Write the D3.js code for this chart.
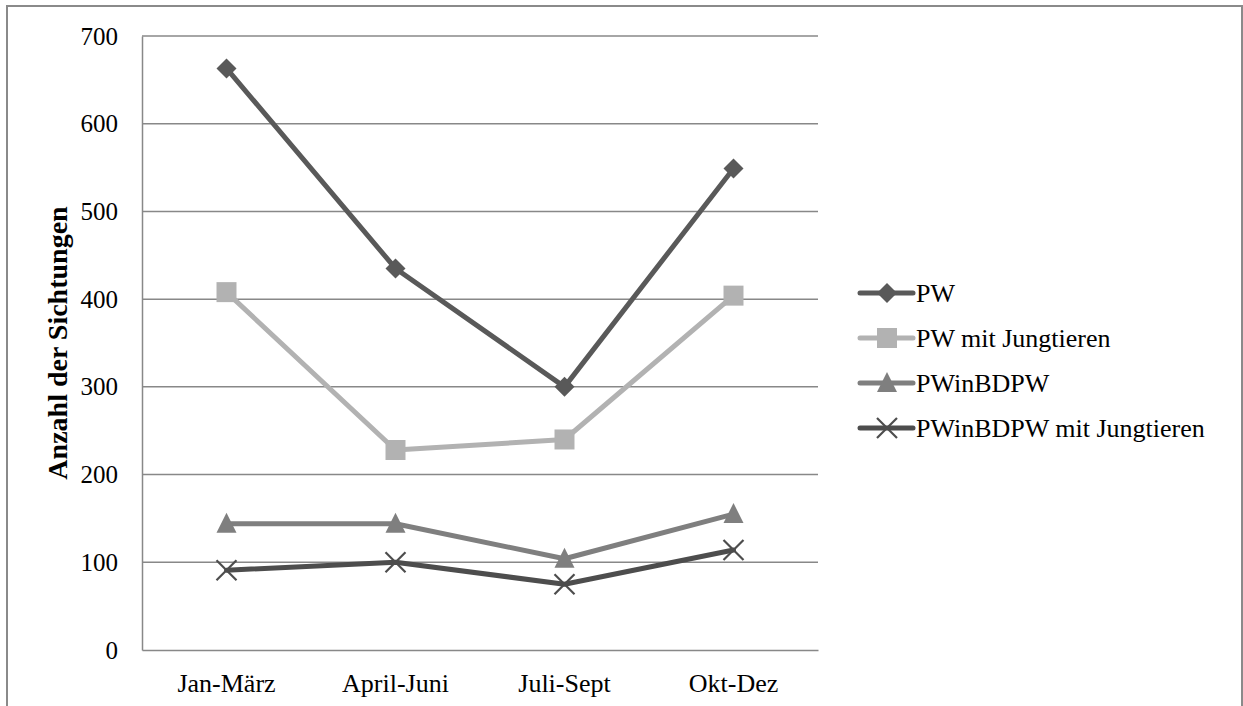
<!DOCTYPE html>
<html>
<head>
<meta charset="utf-8">
<script src="https://cdn.jsdelivr.net/npm/d3@7"></script>
<style>
  html, body { margin: 0; padding: 0; background: #fff; }
  svg { display: block; }
  text { font-family: "Liberation Serif", "Times New Roman", serif; fill: #000; }
</style>
</head>
<body>
<svg id="chart" width="1243" height="706"></svg>
<script>
// Sichtungen je Quartal
const categories = ["Jan-März", "April-Juni", "Juli-Sept", "Okt-Dez"];
const seriesNames = ["PW", "PW mit Jungtieren", "PWinBDPW", "PWinBDPW mit Jungtieren"];
const pw = [663, 435, 300, 549];
const pwJung = [408, 228, 240, 404];
const pwInBdpw = [144, 144, 104, 155];
const pwInBdpwJung = [91, 100, 75, 114];
const yTicks = [0, 100, 200, 300, 400, 500, 600, 700];

const series = [
  { name: seriesNames[0], values: pw, color: "#595959", marker: "diamond" },
  { name: seriesNames[1], values: pwJung, color: "#b2b2b2", marker: "square" },
  { name: seriesNames[2], values: pwInBdpw, color: "#7f7f7f", marker: "triangle" },
  { name: seriesNames[3], values: pwInBdpwJung, color: "#4d4d4d", marker: "x" }
];

const FONT = "'Liberation Serif', 'Times New Roman', serif";
const svg = d3.select("#chart");
const plot = { left: 142, right: 818, top: 36, bottom: 650 };

// outer frame
svg.append("rect")
  .attr("x", 7).attr("y", 6)
  .attr("width", 1235).attr("height", 720)
  .attr("fill", "none").attr("stroke", "#8a8a8a").attr("stroke-width", 2);

const x = d3.scaleBand().domain(categories).range([plot.left, plot.right]);
const y = d3.scaleLinear().domain([0, 700]).range([plot.bottom, plot.top]);

// horizontal gridlines
svg.append("g").selectAll("line").data(yTicks.filter(t => t > 0)).join("line")
  .attr("x1", plot.left).attr("x2", plot.right)
  .attr("y1", d => y(d)).attr("y2", d => y(d))
  .attr("stroke", "#888").attr("stroke-width", 1.5);

// y axis
const yAxis = svg.append("g").attr("transform", `translate(${plot.left},0)`)
  .call(d3.axisLeft(y).tickValues(yTicks).tickSize(0).tickPadding(24));
yAxis.attr("font-family", null).attr("font-size", null);
yAxis.select(".domain").attr("stroke", "#888").attr("stroke-width", 1.5);
yAxis.selectAll("text").style("font-size", "25px").attr("fill", "#000")
  .style("font-family", FONT);

// x axis
const xAxis = svg.append("g").attr("transform", `translate(0,${plot.bottom})`)
  .call(d3.axisBottom(x).tickSize(0).tickPadding(24));
xAxis.attr("font-family", null).attr("font-size", null);
xAxis.select(".domain").attr("stroke", "#888").attr("stroke-width", 1.5);
xAxis.selectAll("text").style("font-size", "26px").attr("fill", "#000")
  .style("font-family", FONT);

// y axis title
svg.append("text")
  .attr("transform", `translate(67,${(plot.top + plot.bottom) / 2}) rotate(-90)`)
  .attr("text-anchor", "middle")
  .style("font-size", "28px").style("font-weight", "bold").style("font-family", FONT)
  .text("Anzahl der Sichtungen");

function markerPath(type) {
  switch (type) {
    case "diamond": return "M0,-10L10,0L0,10L-10,0Z";
    case "square": return "M-10,-10H10V10H-10Z";
    case "triangle": return "M0,-11L10,9H-10Z";
    default: return "M-10,-10L10,10M-10,10L10,-10";
  }
}

function drawMarker(g, type, color) {
  const p = g.append("path").attr("d", markerPath(type));
  if (type === "x") p.attr("fill", "none").attr("stroke", color).attr("stroke-width", 2.2);
  else p.attr("fill", color);
}

const line = d3.line()
  .x((d, i) => x(categories[i]) + x.bandwidth() / 2)
  .y(d => y(d));

series.forEach(s => {
  const g = svg.append("g");
  g.append("path").datum(s.values)
    .attr("d", line).attr("fill", "none")
    .attr("stroke", s.color).attr("stroke-width", 5)
    .attr("stroke-linejoin", "round").attr("stroke-linecap", "round");
  s.values.forEach((v, i) => {
    const m = g.append("g")
      .attr("transform", `translate(${x(categories[i]) + x.bandwidth() / 2},${y(v)})`);
    drawMarker(m, s.marker, s.color);
  });
});

// legend
const legend = svg.append("g");
series.forEach((s, i) => {
  const ly = 293 + i * 45;
  const row = legend.append("g").attr("transform", `translate(0,${ly})`);
  row.append("line").attr("x1", 860).attr("x2", 913).attr("y1", 0).attr("y2", 0)
    .attr("stroke", s.color).attr("stroke-width", 5).attr("stroke-linecap", "round");
  const m = row.append("g").attr("transform", "translate(887,0)");
  drawMarker(m, s.marker, s.color);
  row.append("text").attr("x", 916).attr("y", 9)
    .style("font-size", "26px").style("font-family", FONT).text(s.name);
});
</script>
</body>
</html>
